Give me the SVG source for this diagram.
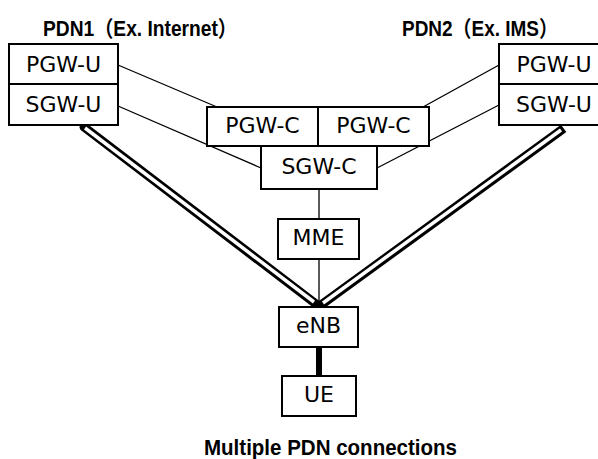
<svg xmlns="http://www.w3.org/2000/svg" width="598" height="459" viewBox="0 0 598 459">
<style>
.box{fill:#fff;stroke:#000;stroke-width:2}
.lbl{font-family:"DejaVu Sans",Verdana,sans-serif;font-size:22px;text-anchor:middle;fill:#000}
.ttl{font-family:"Liberation Sans","Noto Sans CJK JP",sans-serif;font-weight:bold;font-size:22px;fill:#000}
.thin{stroke:#000;stroke-width:1.3;fill:none}
.outer{stroke:#000;stroke-width:9;fill:none}
.inner{stroke:#fff;stroke-width:3.5;fill:none}
</style>
<rect width="598" height="459" fill="#fff"/>
<g id="connectors">
<line class="thin" x1="118" y1="65" x2="217" y2="107"/>
<line class="thin" x1="118" y1="106" x2="261" y2="168"/>
<line class="thin" x1="499" y1="65" x2="423" y2="107"/>
<line class="thin" x1="499" y1="105" x2="377" y2="168"/>
<line class="thin" x1="319" y1="189" x2="319" y2="219"/>
<line class="thin" x1="319" y1="259" x2="319" y2="307"/>
<line class="outer" x1="84" y1="127" x2="316" y2="304" stroke-linecap="round"/>
<line class="inner" x1="85" y1="128" x2="314" y2="302"/>
<line class="outer" x1="560" y1="131" x2="321" y2="305" stroke-linecap="square"/>
<line class="inner" x1="561" y1="130" x2="323" y2="303"/>
<line stroke="#000" stroke-width="6" x1="319" y1="347" x2="319" y2="376"/>
</g>
<g id="pdn1">
<text class="ttl" x="43" y="36" textLength="194" lengthAdjust="spacingAndGlyphs">PDN1（Ex. Internet）</text>
</g>
<g id="pdn2">
<text class="ttl" x="402" y="36" textLength="156" lengthAdjust="spacingAndGlyphs">PDN2（Ex. IMS）</text>
</g>
<g id="pgw-u-1">
<rect class="box" x="9" y="44" width="109" height="40"/>
<text class="lbl" x="63.5" y="72">PGW-U</text>
</g>
<g id="sgw-u-1">
<rect class="box" x="9" y="84" width="109" height="41"/>
<text class="lbl" x="63.5" y="112">SGW-U</text>
</g>
<g id="pgw-u-2">
<rect class="box" x="499" y="44" width="110" height="40"/>
<text class="lbl" x="554" y="72">PGW-U</text>
</g>
<g id="sgw-u-2">
<rect class="box" x="499" y="84" width="110" height="41"/>
<text class="lbl" x="554" y="112">SGW-U</text>
</g>
<g id="pgw-c-1">
<rect class="box" x="207" y="107" width="111" height="39"/>
<text class="lbl" x="262.5" y="133">PGW-C</text>
</g>
<g id="pgw-c-2">
<rect class="box" x="318" y="107" width="111" height="39"/>
<text class="lbl" x="373.5" y="133">PGW-C</text>
</g>
<g id="sgw-c">
<rect class="box" x="261" y="146" width="116" height="43"/>
<text class="lbl" x="319" y="174">SGW-C</text>
</g>
<g id="mme">
<rect class="box" x="278" y="219" width="81" height="40"/>
<text class="lbl" x="318.5" y="245">MME</text>
</g>
<g id="enb">
<rect class="box" x="279" y="307" width="79" height="40"/>
<text class="lbl" x="318.5" y="333">eNB</text>
</g>
<g id="ue">
<rect class="box" x="282" y="376" width="74" height="40"/>
<text class="lbl" x="319" y="402">UE</text>
</g>
<g id="caption">
<text class="ttl" x="204" y="455" textLength="253" lengthAdjust="spacingAndGlyphs">Multiple PDN connections</text>
</g>
</svg>
